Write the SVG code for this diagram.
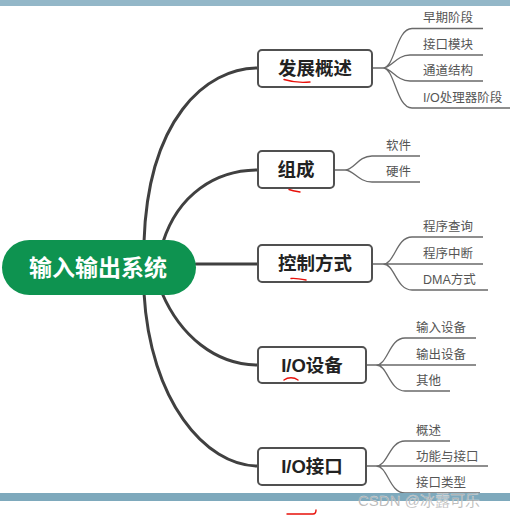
<svg xmlns="http://www.w3.org/2000/svg" width="510" height="516" viewBox="0 0 510 516">
<defs>
<style>
.main{fill:none;stroke:#404040;stroke-width:3;stroke-linecap:round}
.sub{fill:none;stroke:#6a6a6a;stroke-width:1.3}
.box{fill:#fff;stroke:#505050;stroke-width:2}
.nt{font-family:"Liberation Sans","Noto Sans CJK SC",sans-serif;font-weight:bold;font-size:18.5px;fill:#222;text-anchor:middle;dominant-baseline:central}
.lt{font-family:"Liberation Sans","Noto Sans CJK SC",sans-serif;font-size:12.5px;fill:#555}
.red{fill:none;stroke:#e8100a;stroke-width:1.4;stroke-linecap:round}
</style>
</defs>
<rect x="0" y="0" width="510" height="516" fill="#fff"/>
<rect x="0" y="0" width="510" height="6" fill="#93b7c8"/>

<g id="connectors">
<path class="main" d="M144,242 C148,120 205,68 258,68"/>
<path class="main" d="M163,242 C178,195 215,170 258,170"/>
<path class="main" d="M196,264 H258"/>
<path class="main" d="M162,293 C180,335 215,365 258,365"/>
<path class="main" d="M144,293 C150,400 205,466 258,466"/>

<path class="sub" d="M372,68 H383 M383,68 C395,68 396,28.5 412,28.5 H483 M383,68 C392,68 396,55 410,55 H483 M383,68 C392,68 396,81 410,81 H483 M383,68 C395,68 396,108 412,108 H510"/>
<path class="sub" d="M334,170 H345 M345,170 C354,170 358,156 372,156 H420 M345,170 C354,170 358,182 372,182 H420"/>
<path class="sub" d="M372,264 H383 M383,264 C395,264 396,237 412,237 H483 M383,264 H483 M383,264 C395,264 396,290 412,290 H488"/>
<path class="sub" d="M366,365 H376 M376,365 C388,365 389,338 405,338 H476 M376,365 H476 M376,365 C388,365 389,391 405,391 H450"/>
<path class="sub" d="M366,466 H376 M376,466 C388,466 389,441 405,441 H450 M376,466 H488 M376,466 C388,466 389,493 405,493 H480"/>
</g>

<g id="root">
<rect x="2" y="240" width="194" height="55" rx="27.5" fill="#0e9350"/>
<text x="98" y="268" font-family="'Liberation Sans','Noto Sans CJK SC',sans-serif" font-weight="bold" font-size="23" fill="#fff" text-anchor="middle" dominant-baseline="central">输入输出系统</text>
</g>

<g id="n1">
<rect class="box" x="258" y="50" width="114" height="37" rx="4"/>
<text class="nt" x="315" y="68.5">发展概述</text>
<text class="lt" x="423" y="22">早期阶段</text>
<text class="lt" x="423" y="49">接口模块</text>
<text class="lt" x="423" y="75">通道结构</text>
<text class="lt" x="423" y="102">I/O处理器阶段</text>
</g>

<g id="n2">
<rect class="box" x="258" y="151" width="76" height="37" rx="4"/>
<text class="nt" x="296" y="169.5">组成</text>
<text class="lt" x="386" y="150">软件</text>
<text class="lt" x="386" y="176">硬件</text>
</g>

<g id="n3">
<rect class="box" x="258" y="245" width="114" height="37" rx="4"/>
<text class="nt" x="315" y="263.5">控制方式</text>
<text class="lt" x="423" y="231">程序查询</text>
<text class="lt" x="423" y="258">程序中断</text>
<text class="lt" x="423" y="284">DMA方式</text>
</g>

<g id="n4">
<rect class="box" x="258" y="347" width="108" height="36" rx="4"/>
<text class="nt" x="312" y="365">I/O设备</text>
<text class="lt" x="416" y="332">输入设备</text>
<text class="lt" x="416" y="359">输出设备</text>
<text class="lt" x="416" y="385">其他</text>
</g>

<g id="n5">
<rect class="box" x="258" y="448" width="108" height="37" rx="4"/>
<text class="nt" x="312" y="466.5">I/O接口</text>
<text class="lt" x="416" y="435">概述</text>
<text class="lt" x="416" y="461">功能与接口</text>
<text class="lt" x="416" y="486.5">接口类型</text>
</g>

<rect x="0" y="493" width="510" height="8" fill="#7ea9bc"/>
<text x="358" y="506" font-family="'Liberation Sans','Noto Sans CJK SC',sans-serif" font-size="15" fill="#a4a4a4" fill-opacity="0.9" stroke="#ffffff" stroke-width="0.4" stroke-opacity="0.6">CSDN @冰露可乐</text>

<path class="red" d="M284,79.5 C292,82 300,83 310,82"/>
<path class="red" d="M289,189.5 C293,191 297,191.5 300,192"/>
<path class="red" d="M291,278.5 C296,278 301,279 306,280"/>
<path class="red" d="M284,380 C288,377 294,377 298,380"/>
<path class="red" d="M287,514 H313 C315,514 316,512 316,510"/>
</svg>
